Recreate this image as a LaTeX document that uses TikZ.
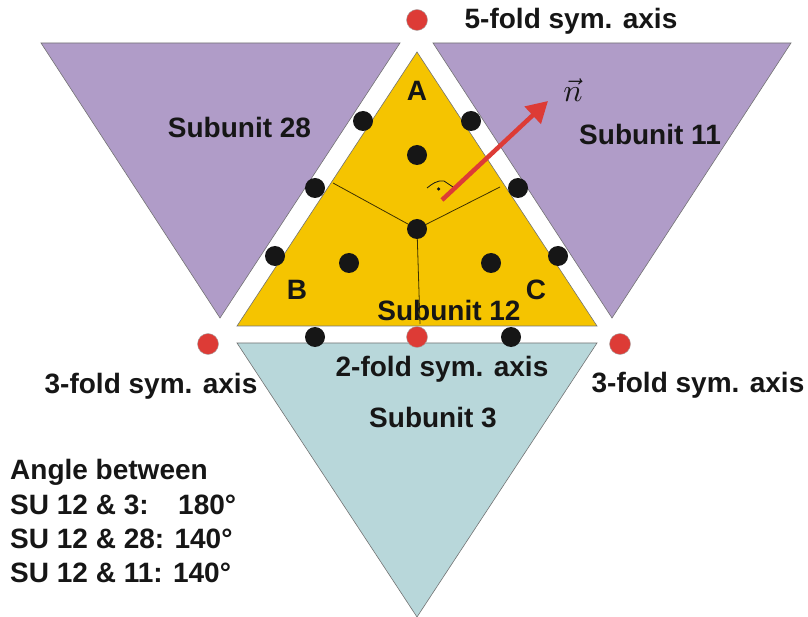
\documentclass[tikz,border=0pt]{standalone}
\usepackage{fontspec}
\setmainfont{Liberation Sans}
\usetikzlibrary{arrows.meta}
\definecolor{purp}{HTML}{B09CC8}
\definecolor{yel}{HTML}{F5C400}
\definecolor{blu}{HTML}{B8D7DA}
\definecolor{redd}{HTML}{DD3B36}
\definecolor{ink}{HTML}{161616}
\tikzset{
  tri/.style={draw=black!55,line width=0.6pt,line join=miter},
  bd/.style={circle,fill=ink,minimum size=20pt,inner sep=0pt},
  rd/.style={circle,fill=redd,draw=black!35,line width=0.4pt,minimum size=21pt,inner sep=0pt},
  lab/.style={font=\bfseries\fontsize{28}{32}\selectfont,text=ink,inner sep=0pt},
  seam/.style={draw=black!75!yel,line width=0.8pt},
}
\begin{document}
\begin{tikzpicture}[x=1pt,y=-1pt]
\useasboundingbox (0,0) rectangle (808,617);
\draw[tri,fill=purp] (41,43) -- (400,43) -- (220,318) -- cycle;
\draw[tri,fill=purp] (433,43) -- (791,43) -- (612,318) -- cycle;
\draw[tri,fill=blu] (237,343) -- (597,343) -- (417,617) -- cycle;
\draw[tri,fill=yel] (417,52) -- (597,326) -- (237,326) -- cycle;
\coordinate (sa) at (333,183);
\coordinate (sb) at (500,187);
\coordinate (sc) at (420,324);
\node[bd] (c) at (417,229) {};
\draw[seam] (c) -- (sa);
\draw[seam] (c) -- (sb);
\draw[seam] (c) -- (sc);
\node[bd] (d1) at (363,121) {};
\node[bd] (d2) at (471,121) {};
\node[bd] (d3) at (315,188) {};
\node[bd] (d4) at (518,188) {};
\node[bd] (d5) at (275,256) {};
\node[bd] (d6) at (558,256) {};
\node[bd] (d7) at (315,337) {};
\node[bd] (d8) at (511,337) {};
\node[bd] (d9) at (417,155) {};
\node[bd] (d10) at (349,263) {};
\node[bd] (d11) at (491,263) {};
\node[rd] (r1) at (417,20) {};
\node[rd] (r2) at (208,344) {};
\node[rd] (r3) at (417,337) {};
\node[rd] (r4) at (620,344) {};
\draw[line width=0.8pt,draw=ink] (427,188) .. controls (432,184) and (437,180) .. (444,181) -- (453,187);
\node[circle,fill=ink,inner sep=0pt,minimum size=3.5pt] (rm) at (438.5,189) {};
\coordinate (as) at (442,200);
\coordinate (ae) at (548,101);
\draw[redd,line width=4.5pt,-{Triangle[length=21pt,width=23pt]}] (as) -- (ae);
\node[scale=3.2,text=ink] (nv) at (573,90) {$\vec{n}$};
\node[lab] (t1) at (571,21) {5-fold sym. axis};
\node[lab] (t2) at (239.5,127) {Subunit 28};
\node[lab] (t3) at (650,134) {Subunit 11};
\node[lab] (t4) at (417,91) {A};
\node[lab] (t5) at (297,290) {B};
\node[lab] (t6) at (536,290) {C};
\node[lab] (t7) at (449,310) {Subunit 12};
\node[lab] (t8) at (442,369) {2-fold sym. axis};
\node[lab] (t9) at (151,386) {3-fold sym. axis};
\node[lab] (t10) at (698,385) {3-fold sym. axis};
\node[lab] (t11) at (433,418) {Subunit 3};
\node[lab,anchor=west] (t12) at (10,472) {Angle between};
\node[lab,anchor=west] (t13) at (10,505) {SU 12 \& 3:};
\node[lab,anchor=west] (t13b) at (178,505) {180°};
\node[lab,anchor=west] (t14) at (10,539) {SU 12 \& 28: 140°};
\node[lab,anchor=west] (t15) at (10,573) {SU 12 \& 11: 140°};
\end{tikzpicture}
\end{document}
